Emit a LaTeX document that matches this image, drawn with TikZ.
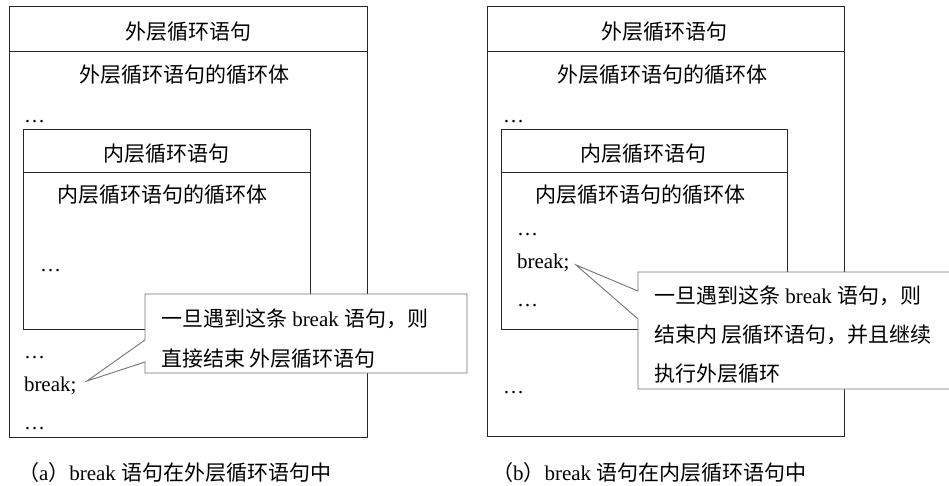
\documentclass[tikz,border=0pt]{standalone}
\usepackage{fontspec}
\setmainfont{Liberation Serif}
\newfontfamily\cjk{Noto Sans CJK SC}
\newcommand\zh[1]{{\cjk #1}}
\begin{document}
\begin{tikzpicture}[x=1pt,y=-1pt,
  every node/.style={inner sep=0pt, outer sep=0pt, font=\fontsize{21}{25}\selectfont},
  boxline/.style={draw=black!85, line width=1pt},
  callout/.style={draw=black!55, fill=white, line width=0.9pt},
  txt/.style={anchor=base west},
  ctr/.style={anchor=base}]
\useasboundingbox (0,0) rectangle (949,486);

% ---------- (a) ----------
\draw[boxline] (9,7) rectangle (367,437);
\draw[boxline] (9,52) -- (367,52);
\draw[boxline] (23,130) rectangle (310,329);
\draw[boxline] (23,173) -- (310,173);

\node[ctr] (ah1) at (188,40) {\zh{外层循环语句}};
\node[ctr] (ah2) at (184,83) {\zh{外层循环语句的循环体}};
\node[txt] (ad1) at (24,123) {…};
\node[ctr] (ai1) at (166,162) {\zh{内层循环语句}};
\node[ctr] (ai2) at (162,203) {\zh{内层循环语句的循环体}};
\node[txt] (ad2) at (40,271) {…};
\node[txt] (ad3) at (24,358) {…};
\node[txt] (abrk) at (24,391) {break;};
\node[txt] (ad4) at (24,429) {…};

\coordinate (tipa) at (87,381);
\draw[callout] (145,294) -- (467,294) -- (467,373) -- (145,373) -- (145,362) -- (tipa) -- (145,340) -- cycle;
\node[txt] (ca1) at (161,326) {\zh{一旦遇到这条} break \zh{语句，则}};
\node[txt] (ca2) at (161,366) {\zh{直接结束 外层循环语句}};

\node[txt] (capa) at (18,480) {\zh{（}a\zh{）}break \zh{语句在外层循环语句中}};

% ---------- (b) ----------
\draw[boxline] (487,7) rectangle (844,436);
\draw[boxline] (487,52) -- (844,52);
\draw[boxline] (501,130) rectangle (787,329);
\draw[boxline] (501,173) -- (787,173);

\node[ctr] (bh1) at (664,40) {\zh{外层循环语句}};
\node[ctr] (bh2) at (662,83) {\zh{外层循环语句的循环体}};
\node[txt] (bd1) at (503,123) {…};
\node[ctr] (bi1) at (643,162) {\zh{内层循环语句}};
\node[ctr] (bi2) at (640,203) {\zh{内层循环语句的循环体}};
\node[txt] (bd2) at (517,235) {…};
\node[txt] (bbrk) at (517,268) {break;};
\node[txt] (bd3) at (517,306) {…};
\node[txt] (bd4) at (503,393) {…};

\coordinate (tipb) at (576,265);
\draw[callout] (638,272) -- (960,272) -- (960,389) -- (638,389) -- (638,319) -- (tipb) -- (638,291) -- cycle;
\node[txt] (cb1) at (654,303) {\zh{一旦遇到这条} break \zh{语句，则}};
\node[txt] (cb2) at (654,342) {\zh{结束内 层循环语句，并且继续}};
\node[txt] (cb3) at (654,381) {\zh{执行外层循环}};

\node[txt] (capb) at (492,480) {\zh{（}b\zh{）}break \zh{语句在内层循环语句中}};
\end{tikzpicture}
\end{document}
